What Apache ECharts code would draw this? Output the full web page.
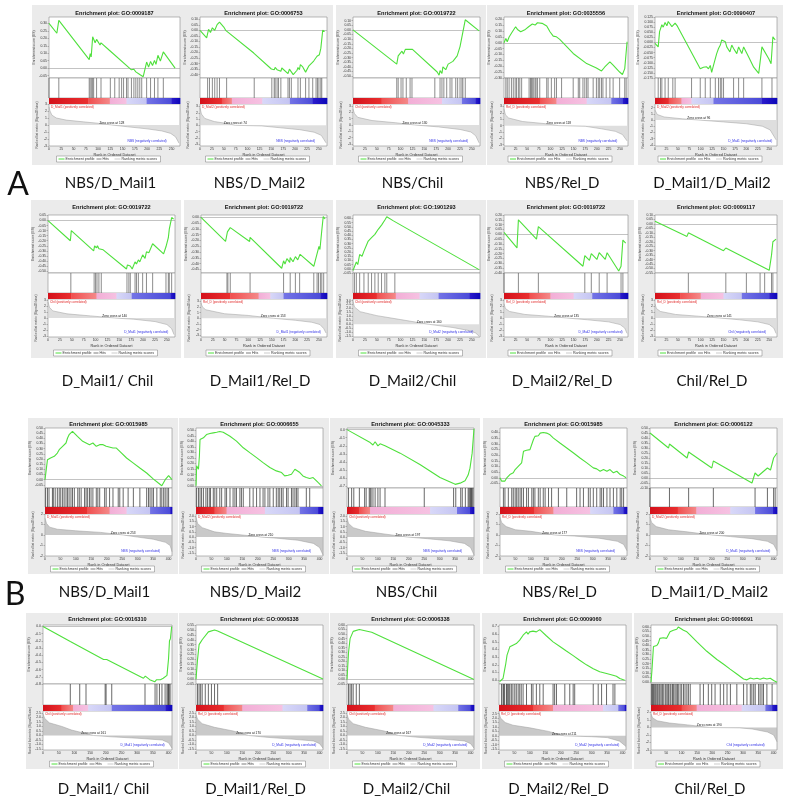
<!DOCTYPE html>
<html><head><meta charset="utf-8">
<script src="https://cdn.jsdelivr.net/npm/echarts/dist/echarts.min.js"></script>
<style>html,body{margin:0;padding:0;background:#fff}#c{width:792px;height:805px}</style>
</head><body><div id="c"></div>
<script>
const panelLabels = ['NBS/D_Mail1','NBS/D_Mail2','NBS/Chil','NBS/Rel_D','D_Mail1/D_Mail2',
 'D_Mail1/ Chil','D_Mail1/Rel_D','D_Mail2/Chil','D_Mail2/Rel_D','Chil/Rel_D',
 'NBS/D_Mail1','NBS/D_Mail2','NBS/Chil','NBS/Rel_D','D_Mail1/D_Mail2',
 'D_Mail1/ Chil','D_Mail1/Rel_D','D_Mail2/Chil','D_Mail2/Rel_D','Chil/Rel_D'];
const goTerms = ['GO:0009187','GO:0006753','GO:0019722','GO:0035556','GO:0090407',
 'GO:0019722','GO:0019722','GO:1901293','GO:0019722','GO:0009117',
 'GO:0015985','GO:0006655','GO:0045333','GO:0015985','GO:0006122',
 'GO:0016310','GO:0006338','GO:0006338','GO:0009060','GO:0006091'];
const sectionLetters = ['A','B'];
const legendTexts = ['Enrichment profile','Hits','Ranking metric scores'];
const rankCounts = [267,267,267,267,267,267,267,267,267,267,411,411,411,411,411,411,411,411,411,411];
const esLimits = [[-0.066,0.343,0.05],[-0.43,0.12,0.05],[-0.52,0.14,0.05],[-0.30,0.22,0.05],[-0.175,0.125,0.025],
 [-0.52,0.055,0.05],[-0.48,0.02,0.05],[-0.05,0.64,0.05],[-0.40,0.20,0.05],[-0.55,0.10,0.05],
 [-0.08,0.50,0.05],[-0.02,0.52,0.05],[-0.72,0.02,0.1],[-0.09,0.44,0.05],[-0.10,0.50,0.05],
 [-0.80,0.02,0.1],[-0.05,0.55,0.05],[-0.05,0.60,0.05],[-0.05,0.72,0.1],[-0.02,0.62,0.05]];
const esPaths = [
 [[0,0.30],[16,0.234],[20,0.32],[82,0.057],[84,0.098],[86,0.075],[89,0.211],[94,0.17],[97,0.193],[104,0.155],[106,0.17],[123,0.12],[125,0.13],[168,-0.011],[173,-0.007],[177,-0.025],[181,-0.016],[185,-0.043],[189,-0.03],[192,-0.057],[199,0.041],[203,0.007],[207,0.045],[211,0.018],[215,0.052],[218,0.025],[222,0.086],[227,0.048],[233,0.109],[257,0.0]],
 [[0,0],[14,-0.069],[18,0.009],[22,-0.02],[26,0.023],[31,0.0],[36,0.051],[41,0.074],[50,0.029],[54,0.0],[56,0.017],[113,-0.205],[114,-0.19],[150,-0.349],[152,-0.335],[156,-0.355],[158,-0.335],[162,-0.355],[165,-0.345],[170,-0.37],[172,-0.34],[185,-0.39],[188,-0.35],[196,-0.40],[204,-0.36],[206,-0.335],[209,-0.355],[211,-0.31],[216,-0.33],[222,-0.377],[229,-0.32],[233,-0.31],[239,-0.277],[243,-0.29],[246,-0.234],[249,-0.25],[251,-0.22],[254,-0.163],[256,-0.18],[258,0.0],[262,-0.01]],
 [[0,0],[92,-0.37],[95,-0.28],[99,-0.30],[103,-0.23],[106,-0.26],[110,-0.21],[114,-0.23],[116,-0.21],[125,-0.21],[177,-0.455],[181,-0.49],[183,-0.44],[187,-0.47],[189,-0.40],[195,-0.43],[200,-0.37],[204,-0.39],[210,-0.34],[212,-0.35],[219,-0.28],[225,-0.18],[229,-0.19],[236,0.11],[265,-0.01]],
 [[0,0.0],[4,0.037],[7,0.009],[11,0.05],[14,0.037],[18,0.094],[21,0.08],[25,0.137],[29,0.114],[32,0.123],[36,0.094],[40,0.08],[46,0.114],[53,0.137],[57,0.151],[61,0.16],[64,0.166],[67,0.151],[72,0.171],[75,0.16],[82,0.166],[92,0.143],[99,0.094],[106,0.057],[113,0.051],[120,0.029],[149,-0.091],[178,-0.177],[199,-0.214],[210,-0.24],[217,-0.206],[221,-0.22],[228,-0.163],[235,-0.19],[249,-0.249],[255,-0.27],[260,-0.22],[265,0.009]],
 [[0,-0.005],[7,-0.022],[10,0.053],[12,0.045],[15,0.087],[18,0.075],[22,0.098],[26,0.082],[29,0.103],[37,0.078],[44,0.095],[49,0.08],[99,-0.13],[102,-0.138],[106,-0.122],[110,-0.13],[113,-0.12],[117,-0.13],[121,-0.113],[124,-0.147],[128,-0.113],[132,-0.08],[135,-0.055],[139,-0.03],[143,-0.013],[146,0.012],[150,0.02],[154,0.003],[157,-0.022],[164,-0.047],[168,-0.013],[172,-0.03],[179,-0.055],[183,-0.022],[190,-0.055],[194,-0.022],[205,-0.072],[216,-0.122],[227,-0.152],[234,-0.022],[249,-0.08],[254,-0.105],[258,0.028],[263,0.012]],
 [[0,0],[47,-0.20],[49,-0.10],[96,-0.30],[98,-0.25],[102,-0.27],[104,-0.25],[107,-0.28],[111,-0.27],[116,-0.29],[165,-0.48],[167,-0.44],[173,-0.45],[177,-0.48],[183,-0.41],[186,-0.43],[190,-0.39],[193,-0.41],[199,-0.34],[204,-0.375],[207,-0.31],[212,-0.32],[220,-0.23],[243,-0.33],[248,-0.26],[253,-0.17],[255,-0.085],[258,-0.10],[260,0.03],[264,0.016]],
 [[0,0],[52,-0.208],[56,-0.125],[60,-0.139],[62,-0.089],[103,-0.208],[104,-0.172],[171,-0.439],[175,-0.375],[178,-0.403],[182,-0.356],[188,-0.389],[189,-0.347],[195,-0.383],[200,-0.339],[205,-0.367],[210,-0.319],[239,-0.422],[242,-0.375],[246,-0.39],[250,-0.25],[252,-0.278],[256,-0.111],[257,-0.12],[259,0.006],[263,-0.014]],
 [[0,-0.02],[3,0.0],[7,0.08],[10,0.05],[14,0.17],[19,0.15],[23,0.21],[27,0.19],[32,0.33],[35,0.31],[39,0.37],[42,0.35],[46,0.41],[49,0.39],[53,0.47],[56,0.45],[60,0.52],[63,0.50],[67,0.58],[71,0.62],[85,0.57],[88,0.59],[265,-0.01]],
 [[0,0.02],[28,-0.14],[31,0.15],[70,-0.05],[74,0.08],[170,-0.33],[174,-0.22],[184,-0.27],[188,-0.20],[200,-0.26],[205,-0.19],[218,-0.26],[222,-0.19],[247,-0.38],[252,-0.33],[256,-0.06],[262,-0.09]],
 [[0,0.03],[70,-0.14],[73,-0.10],[150,-0.30],[155,-0.27],[250,-0.52],[255,-0.35],[258,-0.20],[265,-0.17]],
 [[0,0],[4,0.097],[8,0.194],[13,0.177],[18,0.21],[30,0.226],[35,0.242],[40,0.258],[46,0.29],[51,0.274],[57,0.323],[68,0.355],[73,0.403],[78,0.435],[84,0.452],[89,0.468],[95,0.452],[105,0.419],[111,0.403],[122,0.371],[133,0.355],[144,0.339],[155,0.355],[166,0.323],[177,0.339],[188,0.339],[198,0.323],[220,0.306],[231,0.306],[242,0.274],[264,0.21],[286,0.161],[307,0.113],[329,0.065],[351,0.006],[367,-0.032],[378,-0.058],[389,0.0],[400,0.039],[411,0.0]],
 [[0,0.0],[1,0.074],[2,0.179],[8,0.149],[11,0.268],[13,0.417],[18,0.402],[24,0.432],[29,0.446],[34,0.461],[40,0.452],[45,0.47],[56,0.476],[67,0.482],[77,0.488],[83,0.491],[88,0.482],[110,0.446],[131,0.402],[153,0.342],[174,0.298],[196,0.253],[217,0.208],[239,0.164],[260,0.134],[277,0.119],[287,0.089],[298,0.095],[309,0.104],[314,0.119],[320,0.149],[325,0.143],[336,0.119],[346,0.089],[357,0.074],[368,0.065],[379,0.074],[384,0.06],[395,0.03],[406,0.0]],
 [[0,0],[75,-0.16],[78,-0.14],[84,-0.19],[91,-0.15],[100,-0.20],[107,-0.175],[123,-0.20],[172,-0.29],[236,-0.43],[301,-0.59],[343,-0.66],[350,-0.675],[366,-0.66],[382,-0.63],[392,-0.56],[398,-0.475],[405,-0.29],[411,0.01]],
 [[0,0],[5,-0.029],[11,-0.044],[16,-0.029],[22,0],[27,-0.015],[32,0.029],[38,0.015],[43,0.044],[49,0.073],[54,0.058],[59,0.102],[65,0.088],[70,0.132],[76,0.234],[81,0.249],[86,0.243],[92,0.254],[97,0.249],[103,0.263],[108,0.336],[113,0.366],[119,0.38],[124,0.371],[130,0.395],[140,0.401],[146,0.409],[151,0.395],[162,0.38],[173,0.351],[194,0.307],[216,0.263],[238,0.219],[259,0.175],[281,0.132],[302,0.088],[308,0.073],[313,0.079],[324,0.058],[335,0.073],[346,0.058],[351,0.05],[356,0.073],[367,0.044],[378,0.058],[389,0.029],[400,0.015],[408,0]],
 [[0,0.45],[60,0.30],[63,0.34],[120,0.20],[125,0.26],[200,0.10],[205,0.17],[330,-0.05],[340,0.05],[350,0.02],[380,0.10],[390,0.08],[400,0.20],[411,0.25]],
 [[0,0],[87,-0.21],[90,-0.20],[193,-0.46],[198,-0.44],[203,-0.46],[208,-0.45],[320,-0.72],[326,-0.69],[331,-0.71],[340,-0.74],[356,-0.77],[362,-0.74],[368,-0.72],[374,-0.74],[383,-0.72],[388,-0.73],[395,-0.68],[400,-0.45],[403,-0.20],[406,-0.17],[410,0.0]],
 [[0,0],[5,0.20],[10,0.35],[20,0.40],[40,0.48],[60,0.50],[70,0.49],[411,0.0]],
 [[0,0],[5,0.30],[10,0.45],[20,0.53],[40,0.55],[80,0.52],[411,0.0]],
 [[2,-0.02],[8,-0.035],[13,0.022],[18,0.13],[22,0.217],[26,0.326],[29,0.304],[35,0.435],[40,0.413],[45,0.457],[51,0.443],[56,0.478],[62,0.5],[67,0.522],[72,0.543],[78,0.587],[83,0.609],[89,0.63],[94,0.6],[99,0.63],[110,0.64],[121,0.63],[132,0.66],[153,0.58],[175,0.5],[197,0.44],[218,0.38],[240,0.32],[261,0.26],[283,0.2],[305,0.15],[326,0.11],[348,0.087],[369,0.065],[375,0.074],[380,0.052],[391,0.022],[407,0]],
 [[0,0],[3,0.123],[8,0.387],[13,0.405],[19,0.398],[24,0.423],[29,0.475],[35,0.458],[40,0.482],[46,0.468],[51,0.475],[57,0.493],[62,0.546],[68,0.528],[73,0.563],[78,0.581],[84,0.574],[89,0.599],[95,0.581],[106,0.563],[117,0.546],[128,0.511],[149,0.44],[182,0.335],[215,0.246],[237,0.194],[258,0.141],[280,0.088],[302,0.035],[313,0.025],[324,0.046],[335,0.035],[346,0.042],[356,0.032],[367,0.046],[378,0.035],[389,0.042],[400,0.018],[411,0]]
];
const hitRanks = [
 [0,20,82,84,87,89,91,97,106,125,134,143,148,152,158,161,168,173,177,181,185,189,199,207,215,222,233],
 [16,20,26,31,36,41,56,114,151,156,158,162,165,170,185,188,192,206,211,222,229,237,244,247,250,254,256],
 [92,95,101,105,112,120,124,172,183,187,191,197,204,208,216,220,225,229,231,236],
 [4,7,11,16,20,24,27,31,34,38,54,57,59,61,64,67,69,72,77,92,95,102,109,113,124,149,160,163,170,174,178,181,192,199,203,206,210,213,220,228,235,249,260,263],
 [7,12,15,22,29,39,44,80,99,110,121,132,139,143,146,150,172,183,194,234,256],
 [48,97,100,103,107,112,166,170,173,183,186,190,199,207,220,248,253,255,260],
 [55,57,62,104,175,189,200,209,239,246,249,253,256,260],
 [3,7,14,23,32,39,46,53,60,67,71,88],
 [0,31,74,174,188,205,222,252,256],
 [73,155,200,230,240,255,258],
 [2,8,13,24,27,33,40,46,51,57,62,68,73,78,84,89,95,106,111,117,128,133,138,144,149,155,166,171,177,193,198,209,220,237,242,253,269,286,307,329,335,340,346,351,362,373,378,384,389,395,400],
 [2,8,13,18,24,32,37,43,47,56,61,67,77,83,94,99,110,120,126,131,142,147,153,174,185,196,207,217,223,233,239,250,260,266,271,277,282,293,298,309,314,320,325,330,357,368],
 [5,15,22,40,57,62,72,75,78,84,91,100,107,123,250,345,352,368,373,383,392,395,398,400,403,405,408],
 [11,16,27,38,43,49,54,59,65,70,76,86,92,103,108,113,124,130,140,146,157,167,189,216,248,259,270,286,292,302,313,324,329,335,346,356,367,378,389,394,400],
 [0,63,125,205,340,380,400,405],
 [87,117,137,198,201,219,325,357,363,371,379,389,395,398,400,402,405],
 [5,10,15,20,30,40,50,60,70],
 [5,10,15,20,30,40],
 [8,13,15,18,24,26,29,32,35,40,45,51,56,62,67,72,78,89,105,110,121,132,143,175,180,186,213,229,240,245,305,321,332,348,369,375],
 [2,5,8,11,15,19,22,26,29,33,37,40,46,49,53,57,62,65,70,73,78,82,86,89,95,100,106,111,117,122,128,160,171,187,198,209,226,237,248,259,280,302,313,324,329,335,340,351,356,362,367,378,395]
];
const barBreaks = [[80,124,158,199,250],[46,67,131,189,237],[60,116,187,229,258],[77,113,178,231,256],[30,58,80,128,234],
 [49,102,144,176,258],[62,122,147,175,253],[50,90,140,180,245],[55,100,150,190,250],[55,100,150,190,250],
 [136,209,264,340,405],[60,99,223,336,395],[40,75,269,356,398],[110,173,292,367,400],[90,150,260,340,398],
 [59,96,144,219,390],[90,150,280,360,400],[90,150,280,360,400],[110,175,337,386,407],[100,149,296,373,395]];
const metricPaths = [
 [[0,2.6],[2,2.0],[6,1.4],[15,1.0],[35,0.7],[70,0.45],[100,0.25],[128,0],[160,-0.25],[200,-0.55],[230,-0.85],[248,-1.2],[258,-1.7],[265,-2.6]],
 [[0,2.8],[3,1.8],[10,1.1],[30,0.6],[60,0.25],[74,0],[130,-0.1],[170,-0.4],[210,-0.7],[240,-1.1],[255,-1.6],[265,-2.8]],
 [[0,2.5],[3,1.8],[10,1.2],[40,0.7],[90,0.35],[130,0],[180,-0.3],[225,-0.7],[248,-1.1],[258,-1.7],[265,-2.8]],
 [[0,2.6],[3,1.7],[10,1.2],[40,0.65],[90,0.3],[118,0],[175,-0.1],[210,-0.5],[240,-0.9],[255,-1.4],[265,-2.4]],
 [[0,1.6],[5,0.9],[20,0.5],[60,0.2],[96,0],[150,-0.3],[200,-0.6],[235,-1.0],[252,-1.6],[265,-3.2]],
 [[0,2.7],[3,1.8],[10,1.2],[40,0.7],[90,0.35],[140,0],[180,-0.2],[225,-0.6],[250,-1.1],[260,-1.8],[265,-2.8]],
 [[0,2.7],[3,2.0],[10,1.5],[50,0.8],[100,0.5],[153,0],[200,-0.35],[235,-0.7],[252,-1.1],[260,-1.8],[265,-2.6]],
 [[0,2.9],[3,2.2],[15,1.6],[50,1.1],[100,0.6],[160,0],[210,-0.4],[245,-0.8],[258,-1.1],[265,-1.5]],
 [[0,2.4],[3,1.6],[12,1.1],[45,0.6],[95,0.3],[135,0],[180,-0.3],[225,-0.65],[250,-1.1],[260,-1.7],[265,-2.6]],
 [[0,2.4],[3,1.6],[12,1.1],[45,0.6],[95,0.3],[141,0],[185,-0.3],[225,-0.65],[250,-1.1],[260,-1.7],[265,-2.6]],
 [[0,1.6],[5,1.1],[15,0.75],[40,0.55],[100,0.4],[180,0.25],[253,0],[300,-0.2],[350,-0.4],[390,-0.7],[405,-1.0],[411,-1.6]],
 [[0,1.9],[5,1.3],[20,0.9],[60,0.5],[100,0.35],[200,0.05],[210,0],[260,-0.1],[330,-0.3],[380,-0.6],[400,-1.0],[411,-1.7]],
 [[0,1.8],[5,1.3],[20,0.9],[60,0.55],[120,0.3],[197,0],[260,-0.15],[330,-0.35],[380,-0.6],[400,-1.0],[411,-1.7]],
 [[0,1.7],[5,1.2],[20,0.8],[50,0.5],[100,0.35],[177,0],[240,-0.1],[320,-0.3],[380,-0.6],[400,-0.9],[411,-1.5]],
 [[0,1.7],[5,1.2],[20,0.8],[60,0.5],[120,0.3],[200,0],[260,-0.15],[330,-0.35],[380,-0.6],[400,-0.9],[411,-1.5]],
 [[0,2.4],[5,1.9],[20,1.4],[60,1.0],[91,0.6],[161,0],[220,-0.15],[300,-0.3],[380,-0.5],[400,-0.8],[411,-1.4]],
 [[0,2.3],[5,1.8],[20,1.3],[60,0.9],[120,0.5],[170,0],[230,-0.2],[310,-0.4],[380,-0.6],[400,-0.9],[411,-1.4]],
 [[0,2.3],[5,1.8],[20,1.3],[60,0.9],[120,0.5],[167,0],[230,-0.2],[310,-0.4],[380,-0.6],[400,-0.9],[411,-1.4]],
 [[0,2.6],[5,2.0],[20,1.5],[45,1.2],[100,0.9],[160,0.5],[211,0],[300,-0.1],[350,-0.2],[390,-0.6],[411,-1.2]],
 [[0,1.8],[5,1.3],[20,0.9],[60,0.6],[120,0.35],[190,0],[290,-0.05],[330,-0.2],[380,-0.6],[400,-1.0],[411,-1.9]]
];
const metricLimits = [[-3,3,1],[-3.3,3.4,1],[-3.3,3.3,1],[-3.2,3.4,1],[-4.2,2.6,1],
 [-3.2,3.2,1],[-3.3,3.4,1],[-1.6,3.2,0.5],[-3.2,3.2,1],[-3.2,3.2,1],
 [-2,2,1],[-1.8,2.2,0.5],[-1.8,2.2,0.5],[-2,2,1],[-2,2,1],
 [-1.6,2.7,0.5],[-1.6,2.7,0.5],[-1.6,2.7,0.5],[-1.6,2.8,0.5],[-3,2.2,1]];
const zeroCrossRanks = [128,74,130,118,96,140,153,160,135,141,253,210,197,177,200,161,170,167,211,190];

// ---------- layout and styles ----------
const ROWS = [
 {title:13, esTop:17, esH:61, hitsH:20, cbH:6, rkH:42, legend:159, bg:[5,165], label:183, lefts:[49,200,353,504,655], widths:[131,127,127,124,122]},
 {title:207, esTop:215, esH:58, hitsH:20, cbH:6, rkH:38, legend:353, bg:[200,358], label:381, lefts:[48,201,353,504,655], widths:[127,126,127,124,122]},
 {title:424, esTop:428, esH:60, hitsH:19, cbH:7, rkH:42, legend:569, bg:[418,574], label:592, lefts:[45,196,347,500,650], widths:[127,127,127,127,127]},
 {title:619, esTop:625, esH:59, hitsH:21, cbH:6, rkH:39, legend:764, bg:[613,769], label:789, lefts:[43,196,347,499,651], widths:[129,127,127,127,126]}
];
const BAR_COLORS = [['#d4101a','#ea3030'],['#f04e4e','#f48a8a'],['#f2aed6','#f6c2e2'],['#d8d8f8','#c4c4f2'],['#7474e6','#4a4ad8'],['#2c1ccc','#0c06b8']];
const SMALL = '"Liberation Sans", Arial, sans-serif';

function tickList(lo, hi, step){
  const out=[]; const s=Math.ceil(lo/step-1e-6);
  for(let i=s; i*step<=hi+1e-9; i++) out.push(+(i*step).toFixed(4));
  return out;
}
function decimals(step){ return step>=1?0:(step>=0.1?1:(step>=0.05?2:3)); }

const option = {animation:false, grid:[], xAxis:[], yAxis:[], series:[], graphic:{elements:[]}};
const G = option.graphic.elements;

function txt(x,y,text,font,fill,align,valign){
  G.push({type:'text', x:x, y:y, z:50, silent:true,
    style:{text:text, font:font, fill:fill, align:align||'left', verticalAlign:valign||'middle',
    textAlign:align||'left', textVerticalAlign:valign||'middle'}});
}

for(let k=0;k<20;k++){
  const R = ROWS[Math.floor(k/5)], c=k%5;
  const L=R.lefts[c], W=R.widths[c], n=rankCounts[k];
  const xStep = n>300?50:25;
  const tEs=R.esTop, tHits=tEs+R.esH, tCb=tHits+R.hitsH, tRk=tCb+R.cbH;
  const gi=option.grid.length;
  const border={show:true, backgroundColor:'#fff', borderColor:'#8c8c8c', borderWidth:0.6, z:1};
  option.grid.push(Object.assign({left:L, top:tEs, width:W, height:R.esH}, border));
  option.grid.push(Object.assign({left:L, top:tHits, width:W, height:R.hitsH}, border));
  option.grid.push({left:L, top:tCb, width:W, height:R.cbH, show:false, z:1});
  option.grid.push(Object.assign({left:L, top:tRk, width:W, height:R.rkH}, border));

  const split={show:true, lineStyle:{color:'#e6e6e6', width:0.5}};
  const hidden={axisLine:{show:false}, axisTick:{show:false}, axisLabel:{show:false}, splitLine:{show:false}};
  option.xAxis.push({gridIndex:gi, type:'value', min:0, max:n, interval:xStep, axisLine:{show:false}, axisTick:{show:false}, axisLabel:{show:false}, splitLine:split});
  const [eMin,eMax,eStep]=esLimits[k]; const eT=tickList(eMin,eMax,eStep); const eD=decimals(eStep);
  option.yAxis.push({gridIndex:gi, type:'value', min:eMin, max:eMax, axisLine:{show:false},
    axisTick:{show:true, length:1.5, customValues:eT, lineStyle:{color:'#777', width:0.5}},
    axisLabel:{fontSize:3.4, color:'#333', margin:2, fontFamily:'Liberation Sans', customValues:eT, formatter:v=>v.toFixed(eD)},
    splitLine:split, name:'Enrichment score (ES)', nameLocation:'middle', nameGap:12, nameRotate:90,
    nameTextStyle:{fontSize:3.4, color:'#444', fontFamily:'Liberation Sans'}});
  option.xAxis.push(Object.assign({gridIndex:gi+1, type:'value', min:0, max:n}, hidden));
  option.yAxis.push(Object.assign({gridIndex:gi+1, type:'value', min:0, max:1}, hidden));
  option.xAxis.push(Object.assign({gridIndex:gi+2, type:'value', min:0, max:n}, hidden));
  option.yAxis.push(Object.assign({gridIndex:gi+2, type:'value', min:0, max:1}, hidden));
  const [mMin,mMax,mStep]=metricLimits[k]; const mT=tickList(mMin,mMax,mStep); const mD=decimals(mStep);
  option.xAxis.push({gridIndex:gi+3, type:'value', min:0, max:n, interval:xStep, axisLine:{show:false},
    axisTick:{show:true, length:1.5, lineStyle:{color:'#777', width:0.5}},
    axisLabel:{fontSize:3.4, color:'#333', margin:1.5, fontFamily:'Liberation Sans', showMaxLabel:false},
    splitLine:split, name:'Rank in Ordered Dataset', nameLocation:'middle', nameGap:6.5,
    nameTextStyle:{fontSize:3.8, color:'#333', fontFamily:'Liberation Sans'}});
  option.yAxis.push({gridIndex:gi+3, type:'value', min:mMin, max:mMax, axisLine:{show:false},
    axisTick:{show:true, length:1.5, customValues:mT, lineStyle:{color:'#777', width:0.5}},
    axisLabel:{fontSize:3.4, color:'#333', margin:2, fontFamily:'Liberation Sans', customValues:mT, formatter:v=>v.toFixed(mD)},
    splitLine:split, name:'Ranked list metric (Signal2Noise)', nameLocation:'middle', nameGap:10, nameRotate:90,
    nameTextStyle:{fontSize:3.2, color:'#444', fontFamily:'Liberation Sans'}});

  option.series.push({type:'line', xAxisIndex:gi, yAxisIndex:gi, data:esPaths[k], showSymbol:false, silent:true, z:5,
    lineStyle:{color:'#4fe03c', width:1.1},
    markLine:{silent:true, symbol:'none', label:{show:false}, lineStyle:{color:'#9a9a9a', width:0.6, type:'solid'}, data:[{yAxis:0}]}});
  const hitColor = k<10 ? '#5a5a5a' : '#2a2a2a';
  option.series.push({type:'custom', xAxisIndex:gi+1, yAxisIndex:gi+1, silent:true, z:5,
    data:hitRanks[k].map(h=>[h,1]), encode:{x:0,y:1},
    renderItem:(p,api)=>{const a=api.coord([api.value(0),0]); const b=api.coord([api.value(0),1]);
      return {type:'line', shape:{x1:a[0],y1:a[1],x2:b[0],y2:b[1]}, style:{stroke:hitColor, lineWidth:0.7}};}});
  const br=barBreaks[k]; const edges=[0].concat(br,[n]);
  const segs=[]; for(let s=0;s<6;s++) segs.push([edges[s],edges[s+1],s]);
  option.series.push({type:'custom', xAxisIndex:gi+2, yAxisIndex:gi+2, silent:true, z:5,
    data:segs, encode:{x:[0,1]},
    renderItem:(p,api)=>{const a=api.coord([api.value(0),1]); const b=api.coord([api.value(1),0]);
      const cc=BAR_COLORS[api.value(2)];
      return {type:'rect', shape:{x:a[0], y:a[1], width:b[0]-a[0]+0.4, height:b[1]-a[1]},
        style:{fill:{type:'linear', x:0, y:0, x2:1, y2:0, colorStops:[{offset:0,color:cc[0]},{offset:1,color:cc[1]}]}}};}});
  option.series.push({type:'line', xAxisIndex:gi+3, yAxisIndex:gi+3, data:metricPaths[k], showSymbol:false, silent:true, z:4,
    lineStyle:{color:'#9c9c9c', width:0.5}, areaStyle:{color: k<10 ? '#d0d0d0' : '#b2b2b2'}});

  G.push({type:'rect', z:-5, silent:true, shape:{x:L-17, y:R.bg[0], width:W+23, height:R.bg[1]-R.bg[0]}, style:{fill:'#ebebeb'}});
  txt(L+W/2, R.title, 'Enrichment plot: '+goTerms[k], 'bold 5.6px '+SMALL, '#111', 'center', 'middle');
  const parts=panelLabels[k].split('/').map(s=>s.trim());
  txt(L+2, tRk+3.2, parts[1]+' (positively correlated)', '3.2px '+SMALL, '#e02424', 'left', 'middle');
  txt(L+W*0.6, tRk+R.rkH-5, parts[0]+' (negatively correlated)', '3.2px '+SMALL, '#2e2ee6', 'left', 'middle');
  const zy = tRk + R.rkH*(mMax/(mMax-mMin));
  txt(L+W*zeroCrossRanks[k]/n, zy-2.2, 'Zero cross at '+zeroCrossRanks[k], '3.2px '+SMALL, '#111', 'center', 'middle');
  const lx=L+W/2-58, ly=R.legend;
  G.push({type:'rect', z:40, silent:true, shape:{x:lx, y:ly-3, width:104, height:6}, style:{fill:'#fff', stroke:'#7a7a7a', lineWidth:0.5}});
  G.push({type:'line', z:41, silent:true, shape:{x1:lx+2, y1:ly, x2:lx+8, y2:ly}, style:{stroke:'#4fe03c', lineWidth:1}});
  txt(lx+9, ly, legendTexts[0], '3.6px '+SMALL, '#333', 'left', 'middle');
  G.push({type:'line', z:41, silent:true, shape:{x1:lx+40, y1:ly, x2:lx+45, y2:ly}, style:{stroke:'#222', lineWidth:0.6}});
  txt(lx+46, ly, legendTexts[1], '3.6px '+SMALL, '#333', 'left', 'middle');
  G.push({type:'line', z:41, silent:true, shape:{x1:lx+58, y1:ly, x2:lx+64, y2:ly}, style:{stroke:'#aaa', lineWidth:0.6}});
  txt(lx+65, ly, legendTexts[2], '3.6px '+SMALL, '#333', 'left', 'middle');
  txt(L+W/2-4, R.label, panelLabels[k], '15px Lato, "Open Sans", sans-serif', '#111', 'center', 'middle');
}
txt(18, 185, sectionLetters[0], '32px Lato, "Open Sans", sans-serif', '#111', 'center', 'middle');
txt(15, 595, sectionLetters[1], '32px Lato, "Open Sans", sans-serif', '#111', 'center', 'middle');

const chart = echarts.init(document.getElementById('c'), null, {renderer:'canvas'});
chart.setOption(option);
</script></body></html>
